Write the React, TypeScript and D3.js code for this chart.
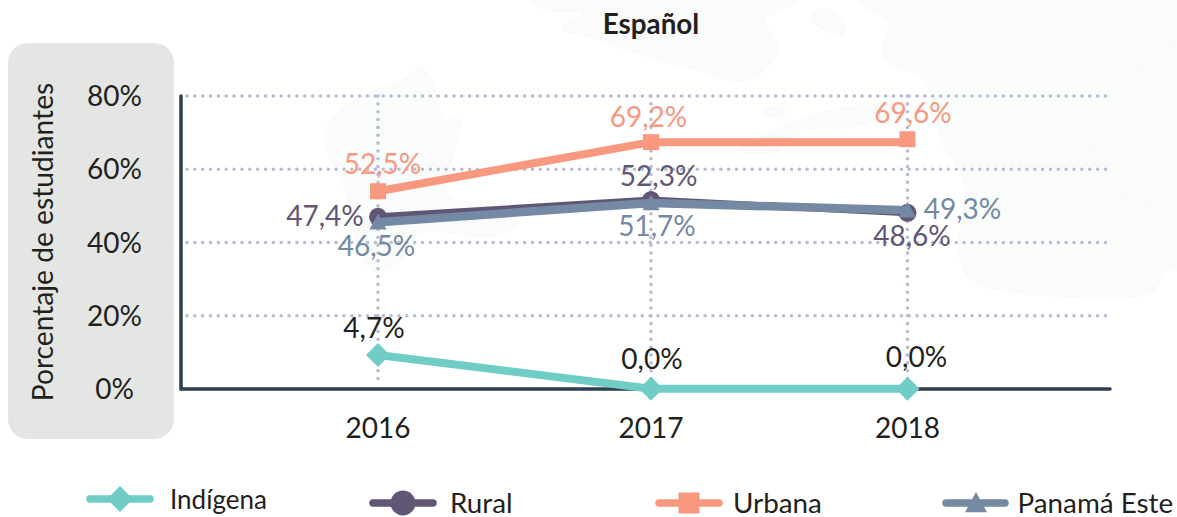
import React from "react";
import * as d3 from "d3";

const years = [2016, 2017, 2018];
const yTicks = [0, 20, 40, 60, 80];
const indigena = [9.3, 0.1, 0.1];
const rural = [47.0, 51.6, 48.1];
const urbana = [54.0, 67.4, 67.4];
const urbanaMarks = [54.0, 67.4, 68.2];
const panamaEste = [45.5, 50.8, 48.8];
const indigenaLabels = ["4,7%", "0,0%", "0,0%"];
const ruralLabels = ["47,4%", "52,3%", "48,6%"];
const urbanaLabels = ["52,5%", "69,2%", "69,6%"];
const panamaEsteLabels = ["46,5%", "51,7%", "49,3%"];

const FONT = "Lato, 'Noto Sans', sans-serif";
const INK = "#231f20";
const GRID = "#b6bdd4";
const BLOB = "#fafbfb";

const x = d3.scaleLinear().domain(years).range([378, 651, 907.5]);
const y = d3.scaleLinear().domain([0, 80]).range([389, 96]);

const blobs: [number, number][][] = [
  [[532, 0], [547, 10], [583, 13], [562, 28], [600, 40], [626, 50], [690, 68], [747, 80], [778, 50], [765, 20], [799, 0]],
  [[810, 18], [825, 9], [843, 20], [843, 34], [825, 30]],
  [[763, 112], [775, 106], [785, 112], [775, 118]],
  [[740, 150], [808, 117], [865, 105], [907, 107], [850, 127], [805, 130], [774, 152]],
  [[858, 0], [888, 23], [883, 57], [923, 80], [942, 143], [964, 180], [960, 260], [976, 282], [1056, 296], [1151, 292], [1168, 267], [1177, 270], [1177, 0]],
  [[421, 68], [404, 80], [356, 100], [325, 133], [344, 187], [364, 260], [377, 272], [400, 260], [421, 233], [490, 237], [517, 223], [505, 203], [448, 197], [459, 120], [444, 120], [432, 80]],
];
const blobLine = d3.line<[number, number]>().curve(d3.curveCatmullRomClosed.alpha(0.5));
const blobOpen = d3.line<[number, number]>().curve(d3.curveCatmullRom.alpha(0.5));
const innerEdge: [number, number][] = [[1177, 40], [1158, 53], [1094, 123], [1113, 190], [1177, 210]];

type Shape = "diamond" | "circle" | "square" | "triangle";

function Marker({ shape, cx, cy, s, fill }: { shape: Shape; cx: number; cy: number; s: number; fill: string }) {
  if (shape === "circle") return <circle cx={cx} cy={cy} r={s} fill={fill} />;
  if (shape === "square") return <rect x={cx - s} y={cy - s} width={2 * s} height={2 * s} fill={fill} />;
  if (shape === "diamond")
    return <path d={`M${cx},${cy - s}L${cx + s},${cy}L${cx},${cy + s}L${cx - s},${cy}Z`} fill={fill} />;
  return <path d={`M${cx},${cy - s}L${cx + s},${cy + s * 0.85}L${cx - s},${cy + s * 0.85}Z`} fill={fill} />;
}

const series = [
  {
    name: "Indígena", values: indigena, marks: indigena, labels: indigenaLabels, color: "#70cdc6", labelColor: INK,
    shape: "diamond" as Shape, size: 12, width: 8,
    offsets: [[-4, -17], [1, -20], [9, -22]],
    legend: { x1: 90, x2: 150, cy: 499, mx: 120, tx: 170, ms: 13, fs: 26 },
  },
  {
    name: "Rural", values: rural, marks: rural, labels: ruralLabels, color: "#625676", labelColor: "#625676",
    shape: "circle" as Shape, size: 9, width: 7,
    offsets: [[-53, 9], [7.6, -14], [4.5, 33]],
    legend: { x1: 373, x2: 433, cy: 503, mx: 403, tx: 450, ms: 12.5, fs: 27.8 },
  },
  {
    name: "Urbana", values: urbana, marks: urbanaMarks, labels: urbanaLabels, color: "#f7987f", labelColor: "#f7987f",
    shape: "square" as Shape, size: 8, width: 8,
    offsets: [[4.5, -17], [-2.5, -15.5], [5.5, -16]],
    legend: { x1: 659, x2: 719, cy: 503, mx: 689, tx: 733, ms: 10.5, fs: 27.8 },
  },
  {
    name: "Panamá Este", values: panamaEste, marks: panamaEste, labels: panamaEsteLabels, color: "#7489a4", labelColor: "#7489a4",
    shape: "triangle" as Shape, size: 8.5, width: 8.5,
    offsets: [[-1.5, 34], [6, 33], [55, 9]],
    legend: { x1: 946, x2: 1005, cy: 503, mx: 976, tx: 1017.5, ms: 11, fs: 27.8 },
  },
];

export default function App() {
  const line = d3.line<number>().x((_, i) => x(years[i])).y((v) => y(v));
  return (
    <svg
      width={1177}
      height={517}
      viewBox="0 0 1177 517"
      style={{ position: "absolute", left: 0, top: 0, background: "#fff", fontFamily: FONT }}
    >
      {blobs.map((b, i) => (
        <path key={i} d={blobLine(b) || ""} fill={BLOB} stroke="#f6f9fa" strokeWidth={1} />
      ))}
      <path d={blobOpen(innerEdge) || ""} fill="none" stroke="#f5f8fa" strokeWidth={1} />

      <rect x={8} y={43} width={166} height={396} rx={20} fill="#e4e6e4" />
      <text
        transform="translate(53,242) rotate(-90)"
        textAnchor="middle"
        fontSize={28.2}
        fill={INK}
      >
        Porcentaje de estudiantes
      </text>
      <text x={651} y={34} textAnchor="middle" fontSize={27.8} fontWeight={700} fill={INK}>
        Español
      </text>

      {yTicks.map((t) => (
        <g key={t}>
          {t > 0 && (
            <line
              x1={187}
              x2={1110}
              y1={y(t)}
              y2={y(t)}
              stroke={GRID}
              strokeWidth={3.6}
              strokeLinecap="round"
              strokeDasharray="0 7.85"
            />
          )}
          <text x={114.5} y={y(t) + 10} textAnchor="middle" fontSize={28} fill={INK}>
            {t}%
          </text>
        </g>
      ))}
      {years.map((yr) => (
        <g key={yr}>
          <line
            x1={x(yr)}
            x2={x(yr)}
            y1={y(80)}
            y2={y(0) - 4}
            stroke={GRID}
            strokeWidth={3.6}
            strokeLinecap="round"
            strokeDasharray="0 7.85"
          />
          <text x={x(yr)} y={437.5} textAnchor="middle" fontSize={28} fill={INK}>
            {yr}
          </text>
        </g>
      ))}
      <path
        d={`M${x.range()[0] - 197},${y(80)}V${y(0)}H1110`}
        fill="none"
        stroke="#2b3f50"
        strokeWidth={3.5}
        strokeLinecap="round"
      />

      {series.map((s) => (
        <g key={s.name}>
          <path d={line(s.values) || ""} fill="none" stroke={s.color} strokeWidth={s.width} />
          {s.marks.map((v, i) => (
            <Marker key={i} shape={s.shape} cx={x(years[i])} cy={y(v)} s={s.size} fill={s.color} />
          ))}
        </g>
      ))}
      {series.map((s) =>
        s.labels.map((l, i) => (
          <text
            key={s.name + i}
            x={x(years[i]) + s.offsets[i][0]}
            y={y(s.marks[i]) + s.offsets[i][1]}
            textAnchor="middle"
            fontSize={28}
            fill={s.labelColor}
          >
            {l}
          </text>
        ))
      )}

      {series.map((s) => (
        <g key={s.name}>
          <line
            x1={s.legend.x1}
            x2={s.legend.x2}
            y1={s.legend.cy}
            y2={s.legend.cy}
            stroke={s.color}
            strokeWidth={7.5}
            strokeLinecap="round"
          />
          <Marker shape={s.shape} cx={s.legend.mx} cy={s.legend.cy} s={s.legend.ms} fill={s.color} />
          <text x={s.legend.tx} y={s.legend.cy + 10} fontSize={s.legend.fs} fill={INK}>
            {s.name}
          </text>
        </g>
      ))}
    </svg>
  );
}
